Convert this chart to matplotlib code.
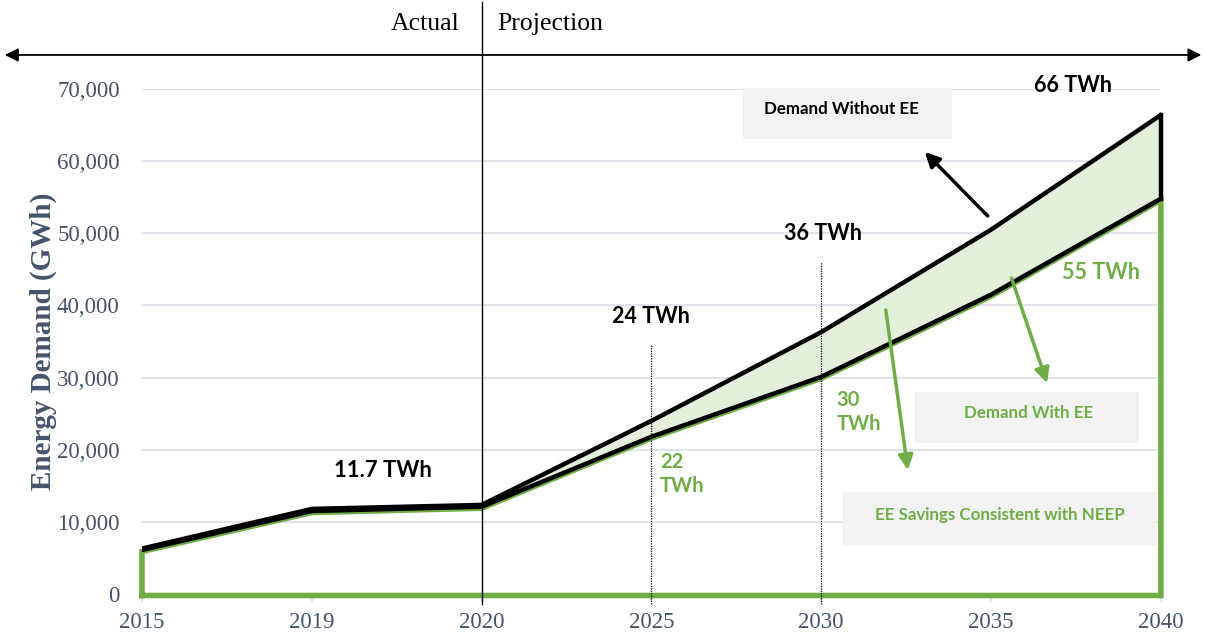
import matplotlib
matplotlib.use("Agg")
import matplotlib.pyplot as plt
from matplotlib.patches import Rectangle
import matplotlib.transforms as mtransforms

years = ["2015", "2019", "2020", "2025", "2030", "2035", "2040"]
demand_without_ee = [6300, 11800, 12350, 24000, 36300, 50500, 66400]
demand_with_ee = [6100, 11500, 12100, 21800, 30100, 41500, 54800]
y_ticks = [0, 10000, 20000, 30000, 40000, 50000, 60000, 70000]

GREEN = "#70ad47"
FILL = "#e2efda"
SLATE = "#44546a"
BOX = "#f2f2f2"
SERIF = "Liberation Serif"
SANS = "Lato"

fig = plt.figure(figsize=(12.05, 6.37), dpi=100)
ax = fig.add_axes([0.1178, 0.0675, 0.8456, 0.7928])

x = list(range(len(years)))
ax.set_xlim(0, len(years) - 1)
ax.set_ylim(0, 70000)

# grid
ax.set_yticks(y_ticks)
ax.set_yticklabels([f"{v:,}" for v in y_ticks], fontfamily=SERIF, fontsize=16.5, color=SLATE)
ax.grid(axis="y", color="#dfe3ea", lw=1.5)
ax.set_axisbelow(True)
ax.set_xticks(x)
ax.set_xticklabels(years, fontfamily=SERIF, fontsize=16.5, color=SLATE)
ax.tick_params(axis="y", length=0, pad=16)
ax.tick_params(axis="x", length=6, width=1.5, color="#dfe3ea", pad=7)
for s in ["top", "right", "left"]:
    ax.spines[s].set_visible(False)
ax.spines["bottom"].set_color("#dfe3ea")
ax.spines["bottom"].set_linewidth(1.5)

# savings band
ax.fill_between(x, demand_with_ee, demand_without_ee, color=FILL, lw=0, zorder=2)

# green outline of the "with EE" area (slightly shifted down)
down = mtransforms.offset_copy(ax.transData, fig=fig, x=0, y=-1.5, units="dots")
gx = [0] + x + [x[-1], 0]
gy = [0] + demand_with_ee + [0, 0]
ax.plot(gx, gy, color=GREEN, lw=4, transform=down, zorder=3, clip_on=False,
        solid_joinstyle="miter")

# black outlines
ax.plot(x, demand_without_ee, color="black", lw=3.2, zorder=4, solid_joinstyle="round")
ax.plot(x, demand_with_ee, color="black", lw=3.2, zorder=4, solid_joinstyle="round")
ax.plot([x[-1], x[-1]], [demand_with_ee[-1], demand_without_ee[-1]], color="black",
        lw=3.2, zorder=4, clip_on=False)

# dotted year markers
ax.plot([3, 3], [-1400, 34500], color="black", lw=0.9, ls=(0, (1, 1)), clip_on=False, zorder=5)
ax.plot([4, 4], [-1400, 46000], color="black", lw=0.9, ls=(0, (1, 1)), clip_on=False, zorder=5)

# actual / projection divider
ax.plot([2, 2], [-1400, 82000], color="black", lw=1, clip_on=False, zorder=5)
ax.annotate("", xy=(0.004, 0.9137), xytext=(0.997, 0.9137), xycoords="figure fraction",
            arrowprops=dict(arrowstyle="<|-|>", color="black", lw=1.3,
                            mutation_scale=20, shrinkA=0, shrinkB=0))
fig.text(0.3817, 0.962, "Actual", ha="right", va="center", fontfamily=SERIF, fontsize=18.5)
fig.text(0.4125, 0.962, "Projection", ha="left", va="center", fontfamily=SERIF, fontsize=18.5)

ax.set_ylabel("Energy Demand (GWh)", fontfamily=SERIF, fontsize=21, fontweight="bold",
              color=SLATE, labelpad=0)

# value labels
ax.text(1.42, 17050, "11.7 TWh", ha="center", va="center", fontfamily=SANS,
        fontweight="bold", fontsize=15.8, color="black")
ax.text(3.0, 38400, "24 TWh", ha="center", va="center", fontfamily=SANS,
        fontweight="bold", fontsize=15.5, color="black")
ax.text(4.01, 49900, "36 TWh", ha="center", va="center", fontfamily=SANS,
        fontweight="bold", fontsize=15.5, color="black")
ax.text(5.48, 70550, "66 TWh", ha="center", va="center", fontfamily=SANS,
        fontweight="bold", fontsize=15.5, color="black", clip_on=False)
ax.text(3.05, 16630, "22\nTWh", ha="left", va="center", fontfamily=SANS,
        fontweight="bold", fontsize=14.5, color=GREEN, linespacing=1.2)
ax.text(4.09, 25230, "30\nTWh", ha="left", va="center", fontfamily=SANS,
        fontweight="bold", fontsize=14.5, color=GREEN, linespacing=1.2)
ax.text(5.65, 44500, "55 TWh", ha="center", va="center", fontfamily=SANS,
        fontweight="bold", fontsize=15.5, color=GREEN)

# callout boxes
ax.add_patch(Rectangle((3.54, 63070), 1.23, 7130, color=BOX, lw=0, zorder=1, clip_on=False))
ax.text(4.12, 67230, "Demand Without EE", ha="center", va="center", fontfamily=SANS,
        fontweight="bold", fontsize=12.2, color="black")
ax.add_patch(Rectangle((4.55, 20930), 1.32, 7070, color=BOX, lw=0, zorder=1))
ax.text(5.22, 25090, "Demand With EE", ha="center", va="center", fontfamily=SANS,
        fontweight="bold", fontsize=12.2, color=GREEN)
ax.add_patch(Rectangle((4.13, 6790), 1.84, 7350, color=BOX, lw=0, zorder=1))
ax.text(5.05, 10950, "EE Savings Consistent with NEEP", ha="center", va="center",
        fontfamily=SANS, fontweight="bold", fontsize=12.2, color=GREEN)

# arrows
arrow_kw = dict(arrowstyle="-|>", lw=2.5, mutation_scale=22, shrinkA=0, shrinkB=0)
ax.annotate("", xy=(4.61, 61270), xytext=(4.98, 52400),
            arrowprops=dict(color="black", **arrow_kw), zorder=6)
ax.annotate("", xy=(4.51, 17190), xytext=(4.38, 39370),
            arrowprops=dict(color=GREEN, **arrow_kw), zorder=6)
ax.annotate("", xy=(5.33, 29250), xytext=(5.12, 43800),
            arrowprops=dict(color=GREEN, **arrow_kw), zorder=6)

fig.savefig("out.png", dpi=100)
